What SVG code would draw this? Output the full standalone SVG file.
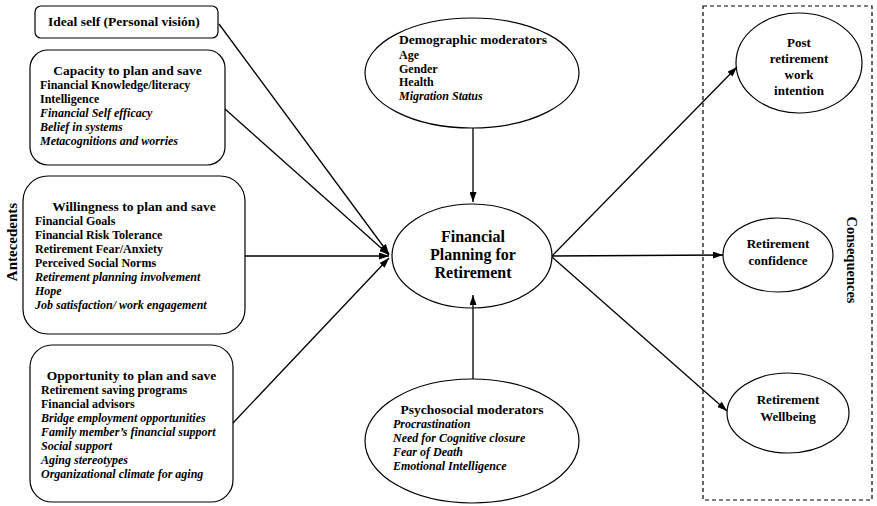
<svg xmlns="http://www.w3.org/2000/svg" width="877" height="506" viewBox="0 0 877 506">
<defs>
<marker id="arr" viewBox="0 0 10 7" refX="10" refY="3.5" markerWidth="10" markerHeight="7" markerUnits="userSpaceOnUse" orient="auto">
<path d="M0,0 L10,3.5 L0,7 z" fill="#000"/>
</marker>
<style>
.box{fill:#fff;stroke:#000;stroke-width:1.2}
.t{font-family:"Liberation Serif","Times New Roman",serif;font-weight:bold;fill:#000}
.h{font-size:13.5px}
.i{font-size:12px}
.it{font-style:italic}
.c{text-anchor:middle}
.big{font-size:16px}
.lbl{font-size:13px}
.edge{stroke:#000;stroke-width:1.3;fill:none;marker-end:url(#arr)}
</style>
</defs>
<rect width="877" height="506" fill="#fff"/>

<g id="antecedents-label">
<text class="t c" font-size="15" transform="translate(12,242) rotate(-90)" y="5">Antecedents</text>
</g>

<g id="ideal-self">
<rect class="box" x="35" y="6" width="183" height="32" rx="6"/>
<text class="t h" x="48" y="26">Ideal self (Personal visión)</text>
</g>

<g id="capacity">
<rect class="box" x="30" y="50" width="195" height="115" rx="18"/>
<text class="t h c" x="127.5" y="75">Capacity to plan and save</text>
<text class="t i" x="40" y="89">Financial Knowledge/literacy</text>
<text class="t i" x="40" y="103">Intelligence</text>
<text class="t i it" x="40" y="117">Financial Self efficacy</text>
<text class="t i it" x="40" y="131">Belief in systems</text>
<text class="t i it" x="40" y="145">Metacognitions and worries</text>
</g>

<g id="willingness">
<rect class="box" x="23" y="176" width="222" height="158" rx="25"/>
<text class="t h c" x="134" y="211">Willingness to plan and save</text>
<text class="t i" x="35" y="225">Financial Goals</text>
<text class="t i" x="35" y="239">Financial Risk Tolerance</text>
<text class="t i" x="35" y="253">Retirement Fear/Anxiety</text>
<text class="t i" x="35" y="267">Perceived Social Norms</text>
<text class="t i it" x="35" y="281">Retirement planning involvement</text>
<text class="t i it" x="35" y="295">Hope</text>
<text class="t i it" x="35" y="309">Job satisfaction/ work engagement</text>
</g>

<g id="opportunity">
<rect class="box" x="30" y="345" width="203" height="157" rx="22"/>
<text class="t h c" x="131.5" y="380">Opportunity to plan and save</text>
<text class="t i" x="41" y="394">Retirement saving programs</text>
<text class="t i" x="41" y="408">Financial advisors</text>
<text class="t i it" x="41" y="422">Bridge employment opportunities</text>
<text class="t i it" x="41" y="436">Family member’s financial support</text>
<text class="t i it" x="41" y="450">Social support</text>
<text class="t i it" x="41" y="464">Aging stereotypes</text>
<text class="t i it" x="41" y="478">Organizational climate for aging</text>
</g>

<g id="demographic">
<ellipse class="box" cx="472" cy="73" rx="107" ry="55"/>
<text class="t h" x="399" y="44">Demographic moderators</text>
<text class="t i" x="399" y="59">Age</text>
<text class="t i" x="399" y="72.5">Gender</text>
<text class="t i" x="399" y="86">Health</text>
<text class="t i it" x="399" y="99.5">Migration Status</text>
</g>

<g id="fpr">
<ellipse class="box" cx="472" cy="256" rx="80" ry="52"/>
<text class="t big c" x="473" y="242">Financial</text>
<text class="t big c" x="473" y="260">Planning for</text>
<text class="t big c" x="473" y="278">Retirement</text>
</g>

<g id="psychosocial">
<ellipse class="box" cx="472" cy="441" rx="107" ry="62"/>
<text class="t h c" x="472" y="414">Psychosocial moderators</text>
<text class="t i it" x="393" y="428">Procrastination</text>
<text class="t i it" x="393" y="442">Need for Cognitive closure</text>
<text class="t i it" x="393" y="456">Fear of Death</text>
<text class="t i it" x="393" y="470">Emotional Intelligence</text>
</g>

<g id="consequences">
<rect x="703" y="6" width="169" height="494" fill="none" stroke="#000" stroke-width="1.2" stroke-dasharray="4,3"/>
<text class="t c" font-size="14.5" transform="translate(852,260) rotate(90)" y="5">Consequences</text>
</g>

<g id="post-retirement">
<ellipse class="box" cx="799" cy="63" rx="63" ry="50"/>
<text class="t lbl c" x="799" y="47">Post</text>
<text class="t lbl c" x="799" y="63">retirement</text>
<text class="t lbl c" x="799" y="79">work</text>
<text class="t lbl c" x="799" y="95">intention</text>
</g>

<g id="confidence">
<ellipse class="box" cx="778" cy="255" rx="55" ry="37"/>
<text class="t lbl c" x="778" y="248">Retirement</text>
<text class="t lbl c" x="778" y="265">confidence</text>
</g>

<g id="wellbeing">
<ellipse class="box" cx="788" cy="413" rx="61" ry="40"/>
<text class="t lbl c" x="788" y="404">Retirement</text>
<text class="t lbl c" x="788" y="421">Wellbeing</text>
</g>

<g id="connectors">
<line class="edge" x1="219" y1="24" x2="389" y2="254"/>
<line class="edge" x1="225" y1="109" x2="389" y2="255"/>
<line class="edge" x1="245" y1="256" x2="389" y2="256"/>
<line class="edge" x1="233" y1="423" x2="389" y2="258"/>
<line class="edge" x1="473" y1="128" x2="473" y2="202"/>
<line class="edge" x1="473" y1="379" x2="473" y2="295"/>
<line class="edge" x1="552" y1="256" x2="737" y2="67"/>
<line class="edge" x1="552" y1="256" x2="723" y2="255"/>
<line class="edge" x1="552" y1="257" x2="727" y2="411"/>
</g>
</svg>
